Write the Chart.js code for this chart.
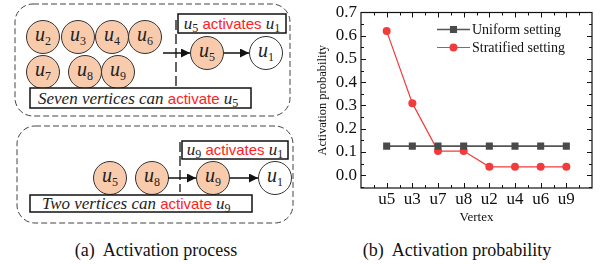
<!DOCTYPE html>
<html>
<head>
  <title>Activation process and probability</title>
  <script src="https://cdn.jsdelivr.net/npm/chart.js"></script>
  <style>
    body {
      margin: 0;
      width: 600px;
      height: 264px;
      background: #fff;
      position: relative;
      overflow: hidden;
      font-family: "Liberation Serif", serif;
    }
    #diagram {
      position: absolute;
      left: 0;
      top: 0;
    }
    .chart-box {
      position: absolute;
      left: 300px;
      top: 0;
      width: 300px;
      height: 228px;
    }
    .caption {
      position: absolute;
      top: 240px;
      font-size: 18px;
      color: #111;
      white-space: pre;
      transform: translateX(-50%);
    }
  </style>
</head>
<body>

<svg id="diagram" width="300" height="230" xmlns="http://www.w3.org/2000/svg">
  <defs>
    <marker id="arr" viewBox="0 0 10 10" refX="10" refY="5" markerWidth="10" markerHeight="9"
            markerUnits="userSpaceOnUse" orient="auto">
      <path d="M0,0 L10,5 L0,10 z" fill="#111"/>
    </marker>
  </defs>

  <!-- top group -->
  <rect x="15" y="4" width="275" height="112" rx="18" fill="none" stroke="#444" stroke-dasharray="6 3"/>
  <line x1="176" y1="20" x2="176" y2="90" stroke="#111" stroke-width="1.3" stroke-dasharray="10 4"/>
  <rect x="178" y="14" width="108" height="19" fill="#fff" stroke="#111" stroke-width="1.5"/>
  <text x="232" y="29" text-anchor="middle" font-family="Liberation Serif" font-size="17" fill="#222"><tspan font-style="italic">u</tspan><tspan font-size="12" dy="3">5</tspan><tspan font-family="Liberation Sans" font-size="15" fill="#f22" dy="-3"> activates </tspan><tspan font-style="italic">u</tspan><tspan font-size="12" dy="3">1</tspan></text>
  <g id="top-nodes"></g>
  <line x1="163" y1="53" x2="190" y2="53" stroke="#111" stroke-width="1.5" marker-end="url(#arr)"/>
  <line x1="224" y1="53" x2="249" y2="53" stroke="#111" stroke-width="1.5" marker-end="url(#arr)"/>
  <rect x="30" y="88" width="221" height="20" fill="#fff" stroke="#111" stroke-width="1.5"/>
  <text x="38" y="104" font-family="Liberation Serif" font-size="17" fill="#222"><tspan font-style="italic">Seven vertices can </tspan><tspan font-family="Liberation Sans" font-size="15" fill="#f22">activate </tspan><tspan font-style="italic">u</tspan><tspan font-size="12" dy="3">5</tspan></text>

  <!-- bottom group -->
  <rect x="17" y="126" width="276" height="97" rx="18" fill="none" stroke="#444" stroke-dasharray="6 3"/>
  <line x1="180" y1="142" x2="180" y2="192" stroke="#111" stroke-width="1.3" stroke-dasharray="10 4"/>
  <rect x="182" y="141" width="106" height="18" fill="#fff" stroke="#111" stroke-width="1.5"/>
  <text x="235" y="155" text-anchor="middle" font-family="Liberation Serif" font-size="17" fill="#222"><tspan font-style="italic">u</tspan><tspan font-size="12" dy="3">9</tspan><tspan font-family="Liberation Sans" font-size="15" fill="#f22" dy="-3"> activates </tspan><tspan font-style="italic">u</tspan><tspan font-size="12" dy="3">1</tspan></text>
  <g id="bottom-nodes"></g>
  <line x1="168" y1="178" x2="196" y2="178" stroke="#111" stroke-width="1.5" marker-end="url(#arr)"/>
  <line x1="230" y1="178" x2="258" y2="178" stroke="#111" stroke-width="1.5" marker-end="url(#arr)"/>
  <rect x="30" y="195" width="222" height="17" fill="#fff" stroke="#111" stroke-width="1.5"/>
  <text x="42" y="209" font-family="Liberation Serif" font-size="17" fill="#222"><tspan font-style="italic">Two vertices can </tspan><tspan font-family="Liberation Sans" font-size="15" fill="#f22">activate </tspan><tspan font-style="italic">u</tspan><tspan font-size="12" dy="3">9</tspan></text>
</svg>

<div class="caption" style="left:156px">(a)  Activation process</div>
<div class="chart-box"><canvas id="probChart" width="300" height="228"></canvas></div>
<div class="caption" style="left:457px">(b)  Activation probability</div>

<script>
  // chart data
  const vertices = ['u5', 'u3', 'u7', 'u8', 'u2', 'u4', 'u6', 'u9'];
  const seriesNames = ['Uniform setting', 'Stratified setting'];
  const uniform = [0.125, 0.125, 0.125, 0.125, 0.125, 0.125, 0.125, 0.125];
  const stratified = [0.62, 0.31, 0.104, 0.104, 0.036, 0.036, 0.036, 0.036];
  const yTickValues = [0, 0.1, 0.2, 0.3, 0.4, 0.5, 0.6, 0.7];

  // diagram nodes: [label number, cx, cy, filled]
  const topNodes = [['2', 43, 37, 1], ['3', 78, 37, 1], ['4', 112, 37, 1], ['6', 145, 37, 1],
                    ['7', 43, 72, 1], ['8', 85, 72, 1], ['9', 118, 72, 1],
                    ['5', 207, 53, 1], ['1', 266, 53, 0]];
  const bottomNodes = [['5', 110, 178, 1], ['8', 152, 178, 1], ['9', 213, 178, 1], ['1', 275, 178, 0]];

  function addNodes(groupId, nodes) {
    const g = document.getElementById(groupId);
    const ns = 'http://www.w3.org/2000/svg';
    nodes.forEach(([n, cx, cy, filled]) => {
      const c = document.createElementNS(ns, 'circle');
      c.setAttribute('cx', cx);
      c.setAttribute('cy', cy);
      c.setAttribute('r', 16.5);
      c.setAttribute('fill', filled ? '#f8cbad' : '#fff');
      c.setAttribute('stroke', '#333');
      c.setAttribute('stroke-width', 1);
      g.appendChild(c);
      const t = document.createElementNS(ns, 'text');
      t.setAttribute('x', cx);
      t.setAttribute('y', cy + 4);
      t.setAttribute('text-anchor', 'middle');
      t.setAttribute('font-family', 'Liberation Serif');
      t.setAttribute('font-size', 20);
      t.setAttribute('fill', '#222');
      const u = document.createElementNS(ns, 'tspan');
      u.setAttribute('font-style', 'italic');
      u.textContent = 'u';
      const s = document.createElementNS(ns, 'tspan');
      s.setAttribute('font-size', 12);
      s.setAttribute('dy', 4);
      s.textContent = n;
      t.appendChild(u);
      t.appendChild(s);
      g.appendChild(t);
    });
  }
  addNodes('top-nodes', topNodes);
  addNodes('bottom-nodes', bottomNodes);

  // frame with inward ticks, like the original plot
  const framePlugin = {
    id: 'frame',
    beforeDatasetsDraw(chart) {
      const {ctx, chartArea: a, scales: {x, y}} = chart;
      ctx.save();
      ctx.strokeStyle = '#111';
      ctx.lineWidth = 1.2;
      ctx.strokeRect(a.left, a.top, a.right - a.left, a.bottom - a.top);
      ctx.lineWidth = 1;
      ctx.beginPath();
      for (let v = -0.05; v <= 0.7001; v += 0.05) {
        const py = Math.round(y.getPixelForValue(v)) + 0.5;
        const len = Math.abs(v * 10 - Math.round(v * 10)) < 0.01 ? 5 : 3;
        ctx.moveTo(a.left, py); ctx.lineTo(a.left + len, py);
        ctx.moveTo(a.right, py); ctx.lineTo(a.right - len, py);
      }
      for (let v = -0.5; v <= 7.5; v += 0.5) {
        const px = Math.round(x.getPixelForValue(v)) + 0.5;
        const len = Number.isInteger(v) ? 5 : 3;
        ctx.moveTo(px, a.bottom); ctx.lineTo(px, a.bottom - len);
        ctx.moveTo(px, a.top); ctx.lineTo(px, a.top + len);
      }
      ctx.stroke();
      ctx.restore();
    }
  };

  // legend inside the plot area, top right
  const legendPlugin = {
    id: 'innerLegend',
    afterDraw(chart) {
      const {ctx, chartArea: a} = chart;
      ctx.save();
      chart.data.datasets.forEach((ds, i) => {
        const y0 = a.top + 17 + i * 18;
        const x0 = a.left + 76;
        ctx.strokeStyle = ds.borderColor;
        ctx.lineWidth = ds.borderWidth;
        ctx.beginPath();
        ctx.moveTo(x0, y0);
        ctx.lineTo(x0 + 33, y0);
        ctx.stroke();
        ctx.fillStyle = ds.pointBackgroundColor;
        ctx.strokeStyle = ds.pointBorderColor;
        Chart.helpers.drawPoint(ctx, {
          pointStyle: ds.pointStyle, radius: ds.pointRadius, borderWidth: 0
        }, x0 + 16.5, y0);
        ctx.fillStyle = '#111';
        ctx.font = '14px "Liberation Serif"';
        ctx.textBaseline = 'middle';
        ctx.fillText(ds.label, x0 + 35, y0 + 1);
      });
      ctx.restore();
    }
  };

  const toPoints = arr => arr.map((v, i) => ({x: i, y: v}));

  new Chart(document.getElementById('probChart').getContext('2d'), {
    type: 'line',
    data: {
      datasets: [
        {
          label: seriesNames[0],
          data: toPoints(uniform),
          borderColor: '#555',
          borderWidth: 1.6,
          pointStyle: 'rect',
          pointRadius: 5,
          pointBackgroundColor: '#4a4a4a',
          pointBorderColor: '#4a4a4a',
          pointBorderWidth: 0
        },
        {
          label: seriesNames[1],
          data: toPoints(stratified),
          borderColor: '#f23c3c',
          borderWidth: 1.2,
          pointStyle: 'circle',
          pointRadius: 4,
          pointBackgroundColor: '#f23c3c',
          pointBorderColor: '#f23c3c',
          pointBorderWidth: 0
        }
      ]
    },
    options: {
      responsive: false,
      animation: false,
      devicePixelRatio: 1,
      layout: { padding: { left: 0, right: 8, top: 8, bottom: 0 } },
      plugins: { legend: { display: false }, tooltip: { enabled: false } },
      scales: {
        x: {
          type: 'linear',
          min: -1,
          max: 8,
          grid: { display: false, drawTicks: false },
          border: { display: false },
          ticks: {
            stepSize: 1,
            autoSkip: false,
            maxRotation: 0,
            padding: 3,
            color: '#111',
            font: { family: 'Liberation Serif', size: 17, lineHeight: 1 },
            callback: v => vertices[v] ?? ''
          },
          title: {
            display: true,
            text: 'Vertex',
            color: '#111',
            font: { family: 'Liberation Serif', size: 13, lineHeight: 1.2 },
            padding: { top: 0, bottom: 3 }
          },
          afterFit: s => { s.height = 40; }
        },
        y: {
          min: -0.055,
          max: 0.7,
          grid: { display: false, drawTicks: false },
          border: { display: false },
          afterBuildTicks: s => { s.ticks = yTickValues.map(v => ({value: v})); },
          ticks: {
            padding: 4,
            color: '#111',
            font: { family: 'Liberation Serif', size: 17, lineHeight: 1 },
            callback: v => v.toFixed(1)
          },
          title: {
            display: true,
            text: 'Activation probability',
            color: '#111',
            font: { family: 'Liberation Serif', size: 12.5, lineHeight: 1.2 },
            padding: { top: 15, bottom: 0 }
          },
          afterFit: s => { s.width = 61; }
        }
      }
    },
    plugins: [framePlugin, legendPlugin]
  });
</script>
</body>
</html>
